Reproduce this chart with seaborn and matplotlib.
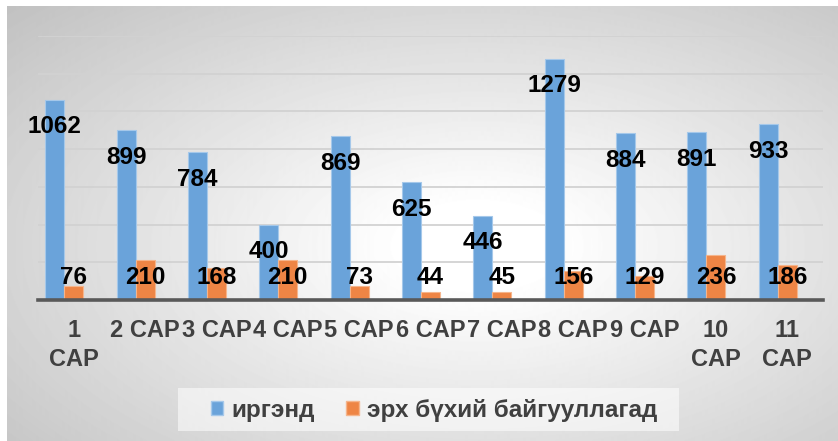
import numpy as np
import pandas as pd
import matplotlib
matplotlib.use("Agg")
import matplotlib.pyplot as plt
from matplotlib.patches import Rectangle, Patch
import seaborn as sns

# data
months = ["1\nCAP", "2 CAP", "3 CAP", "4 CAP", "5 CAP", "6 CAP",
          "7 CAP", "8 CAP", "9 CAP", "10\nCAP", "11\nCAP"]
citizens = [1062, 899, 784, 400, 869, 625, 446, 1279, 884, 891, 933]
organizations = [76, 210, 168, 210, 73, 44, 45, 156, 129, 236, 186]
series_names = ["иргэнд", "эрх бүхий байгууллагад"]

df = pd.DataFrame({
    "month": months * 2,
    "value": citizens + organizations,
    "series": [series_names[0]] * len(months) + [series_names[1]] * len(months),
})

sns.set_theme(style="white")
plt.rcParams["font.family"] = ["Liberation Sans", "DejaVu Sans"]

BLUE = "#6aa3da"
ORANGE = "#ee8545"
TEXT = "#404040"

fig = plt.figure(figsize=(8.38, 4.41), dpi=100)

# grey radial gradient panel behind the chart
bg = fig.add_axes([7 / 838, 0, 831 / 838, 435 / 441], zorder=-10)
h, w = 435, 831
yy, xx = np.mgrid[0:h, 0:w]
r = np.sqrt(((xx - 470) / 470.0) ** 2 + ((yy - 240) / 250.0) ** 2)
r = r / r.max()
shade = 255 - 62 * np.clip((r - 0.12) / 0.88, 0, 1)
bg.imshow(shade, cmap="gray", vmin=0, vmax=255, aspect="auto")
bg.axis("off")

ax = fig.add_axes([38 / 838, 141 / 441, 785 / 838, 264 / 441])
ax.set_facecolor("none")

# third (empty) hue level keeps the Excel-like offset of the bar pairs
sns.barplot(data=df, x="month", y="value", hue="series", order=months,
            hue_order=series_names + ["_spacer"],
            palette={series_names[0]: BLUE, series_names[1]: ORANGE, "_spacer": "white"},
            width=0.8, saturation=1, errorbar=None, legend=False, ax=ax)

edge_colors = ["#a5c8ea", "#f5b58c"]
for cont, ec in zip(ax.containers, edge_colors):
    for bar in cont:
        bar.set_edgecolor(ec)
        bar.set_linewidth(0.8)

label_style = dict(ha="center", va="center", fontsize=17.5, fontweight="bold",
                   color="black", textcoords="offset points")
for bar, v in zip(ax.containers[0], citizens):
    ax.annotate(str(v), (bar.get_x() + bar.get_width() / 2, bar.get_height()),
                xytext=(0, -19.5), **label_style)
for bar, v in zip(ax.containers[1], organizations):
    ax.annotate(str(v), (bar.get_x() + bar.get_width() / 2, 0),
                xytext=(0, 16.5), **label_style)

ax.set_ylim(0, 1400)
ax.set_yticks(range(0, 1401, 200))
ax.set_yticklabels([])
ax.grid(axis="y", color="#d2d2d2", linewidth=1.3)
ax.set_axisbelow(True)
ax.set_xlabel("")
ax.set_ylabel("")
ax.tick_params(axis="y", length=0)
ax.tick_params(axis="x", length=0, pad=14, labelsize=17, labelcolor=TEXT)
for lbl in ax.get_xticklabels():
    lbl.set_fontweight("bold")
    lbl.set_linespacing(1.3)
for side in ["left", "right", "top"]:
    ax.spines[side].set_visible(False)
ax.spines["bottom"].set_color("#595959")
ax.spines["bottom"].set_linewidth(2.6)

# legend with its pale box
fig.add_artist(Rectangle((178 / 838, 10 / 441), 501 / 838, 43 / 441,
                         transform=fig.transFigure, facecolor="white",
                         alpha=0.55, edgecolor="none"))
handles = [Patch(facecolor=BLUE, edgecolor="#a5c8ea"),
           Patch(facecolor=ORANGE, edgecolor="#f5b58c")]
fig.legend(handles, series_names, loc="center", bbox_to_anchor=(434 / 838, 31 / 441),
           ncol=2, frameon=False, prop={"size": 17.5, "weight": "bold"},
           labelcolor=TEXT, handlelength=0.5, handleheight=0.5,
           handletextpad=0.35, columnspacing=1.3)

fig.savefig("out.png", dpi=100)
